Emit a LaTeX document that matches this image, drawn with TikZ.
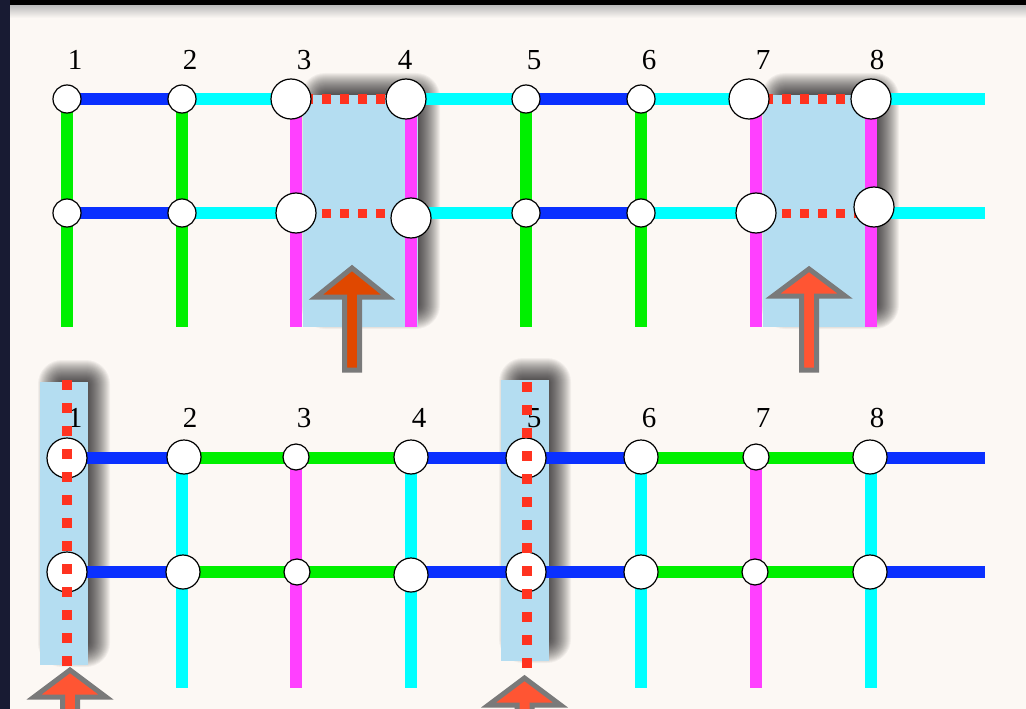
\documentclass[tikz,border=0pt]{standalone}
\usepackage{fontspec}
\setmainfont{Liberation Serif}
\definecolor{panel}{HTML}{FCF8F4}
\definecolor{navy}{HTML}{181B33}
\definecolor{lblue}{HTML}{B4DDF1}
\definecolor{lnblue}{HTML}{0A30FF}
\definecolor{lncyan}{HTML}{00FFFF}
\definecolor{lngreen}{HTML}{00F000}
\definecolor{lnmag}{HTML}{FF40FF}
\definecolor{dotred}{HTML}{FF3320}
\definecolor{arrdark}{HTML}{E04800}
\definecolor{arrlight}{HTML}{FF5533}
\definecolor{arrgray}{HTML}{7A7A7A}
\newcommand\myuparrow[6]{%
  \path[draw=arrgray,line width=5pt,fill=#6,line join=miter]
    (#2,#3) -- ({#2+36},#4) -- ({#2+7.5},#4) -- ({#2+7.5},#5)
    -- ({#2-7.5},#5) -- ({#2-7.5},#4) -- ({#2-36},#4) -- cycle;}
\newcommand\hlbox[4]{%
  \foreach \k [evaluate=\k as \r using {\k+12}] in {12,11,...,-10}{
    \fill[black,opacity=0.045,rounded corners=\r pt]
      ({#1+10-\k},{#2-10-\k}) rectangle ({#3+10+\k},{#4-10+\k});
  }
  \fill[lblue] (#1,#2) rectangle (#3,#4);}
\begin{document}
\begin{tikzpicture}[x=1pt,y=-1pt,
  ln/.style={line width=12pt},
  bl/.style={ln,draw=lnblue},
  cy/.style={ln,draw=lncyan},
  gr/.style={ln,draw=lngreen},
  mg/.style={ln,draw=lnmag},
  rdh/.style={draw=dotred,line width=9pt,dash pattern=on 9pt off 9pt,dash phase=10pt},
  rdv/.style={draw=dotred,line width=10pt,dash pattern=on 10pt off 13pt},
  circ/.style={circle,draw=black,fill=white,line width=1.2pt,inner sep=0pt},
  sm/.style={circ,minimum size=28pt},
  md/.style={circ,minimum size=34pt},
  bg/.style={circ,minimum size=40pt},
  tn/.style={circ,minimum size=26pt},
  lab/.style={font=\fontsize{29}{29}\selectfont,inner sep=0pt}
]
\useasboundingbox (0,0) rectangle (1026,709);
% background
\fill[black] (0,0) rectangle (1026,709);
\fill[navy] (0,0) rectangle (10,709);
\fill[panel] (10,6) rectangle (1026,709);
\shade[top color=black!25,bottom color=panel] (10,6) rectangle (1026,18);

% highlight rectangles with soft shadows
\hlbox{303}{95}{418}{327}
\hlbox{763}{95}{877}{327}
\hlbox{40}{382}{88}{665}
\hlbox{501}{380}{549}{661}

% ---------- top grid coordinates ----------
\foreach \i/\x in {1/67,2/182,3/296,4/411,5/526,6/641,7/756,8/871}{
  \coordinate (ta\i) at (\x,99);
  \coordinate (tb\i) at (\x,213);
  \coordinate (tc\i) at (\x,327);
}
\coordinate (taE) at (985,99);
\coordinate (tbE) at (985,213);
% verticals
\foreach \i/\s in {1/gr,2/gr,3/mg,4/mg,5/gr,6/gr,7/mg,8/mg}{
  \draw[\s] (ta\i) -- (tc\i);
}
% horizontals
\foreach \r in {ta,tb}{
  \draw[bl] (\r1) -- (\r2);
  \draw[cy] (\r2) -- (\r3);
  \draw[rdh] (\r3) -- (\r4);
  \draw[cy] (\r4) -- (\r5);
  \draw[bl] (\r5) -- (\r6);
  \draw[cy] (\r6) -- (\r7);
  \draw[rdh] (\r7) -- (\r8);
  \draw[cy] (\r8) -- (\r E);
}
% circles top
\node[sm] (nta1) at (67,99) {};
\node[sm] (nta2) at (182,99) {};
\node[bg] (nta3) at (291,99) {};
\node[bg] (nta4) at (406,99) {};
\node[sm] (nta5) at (526,99) {};
\node[sm] (nta6) at (641,99) {};
\node[bg] (nta7) at (749,99) {};
\node[bg] (nta8) at (871,99) {};
\node[sm] (ntb1) at (67,213) {};
\node[sm] (ntb2) at (182,213) {};
\node[bg] (ntb3) at (296,213) {};
\node[bg] (ntb4) at (411,218) {};
\node[sm] (ntb5) at (526,213) {};
\node[sm] (ntb6) at (641,213) {};
\node[bg] (ntb7) at (756,213) {};
\node[bg] (ntb8) at (874,207) {};
% labels top
\foreach \i/\x in {1/75,2/190,3/304,4/405,5/534,6/649,7/763,8/877}{
  \node[lab] (lt\i) at (\x,60) {\i};
}

% ---------- bottom grid coordinates ----------
\foreach \i/\x in {1/67,2/182,3/296,4/411,5/526,6/641,7/756,8/871}{
  \coordinate (ba\i) at (\x,458);
  \coordinate (bb\i) at (\x,572);
  \coordinate (bc\i) at (\x,688);
}
\coordinate (baE) at (985,458);
\coordinate (bbE) at (985,572);
\coordinate (bv1t) at (67,380);
\coordinate (bv1b) at (67,666);
\coordinate (bv5t) at (527,382);
\coordinate (bv5b) at (527,670);
% verticals
\foreach \i/\s in {2/cy,3/mg,4/cy,6/cy,7/mg,8/cy}{
  \draw[\s] (ba\i) -- (bc\i);
}
% horizontals
\foreach \r in {ba,bb}{
  \draw[bl] (\r1) -- (\r2);
  \draw[gr] (\r2) -- (\r3);
  \draw[gr] (\r3) -- (\r4);
  \draw[bl] (\r4) -- (\r5);
  \draw[bl] (\r5) -- (\r6);
  \draw[gr] (\r6) -- (\r7);
  \draw[gr] (\r7) -- (\r8);
  \draw[bl] (\r8) -- (\r E);
}
% circles bottom
\node[bg] (nba1) at (67,458) {};
\node[md] (nba2) at (184,457) {};
\node[tn] (nba3) at (296,457) {};
\node[md] (nba4) at (411,457) {};
\node[bg] (nba5) at (526,458) {};
\node[md] (nba6) at (641,457) {};
\node[tn] (nba7) at (756,457) {};
\node[md] (nba8) at (870,457) {};
\node[bg] (nbb1) at (67,572) {};
\node[md] (nbb2) at (183,572) {};
\node[tn] (nbb3) at (297,572) {};
\node[md] (nbb4) at (411,575) {};
\node[bg] (nbb5) at (526,572) {};
\node[md] (nbb6) at (641,572) {};
\node[tn] (nbb7) at (755,572) {};
\node[md] (nbb8) at (870,572) {};
% labels bottom
\foreach \i/\x in {1/75,2/190,3/304,4/419,5/534,6/649,7/763,8/877}{
  \node[lab] (lb\i) at (\x,418) {\i};
}
% red dotted verticals
\draw[rdv] (bv1t) -- (bv1b);
\draw[rdv] (bv5t) -- (bv5b);

% arrows
\myuparrow{a1}{352}{268}{297}{370}{arrdark}
\myuparrow{a2}{809}{269}{296}{370}{arrlight}
\myuparrow{a3}{70}{670}{697}{740}{arrlight}
\myuparrow{a4}{524.5}{678}{705}{745}{arrlight}
\end{tikzpicture}
\end{document}
